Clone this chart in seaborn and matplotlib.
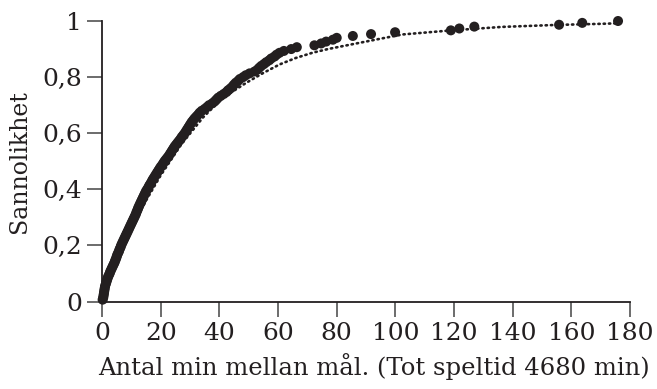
import matplotlib
matplotlib.use("Agg")
import matplotlib.pyplot as plt
import pandas as pd
import seaborn as sns

# sorted intervals between goals (minutes)
intervals = [
    0.2, 0.4, 0.5, 0.6, 0.7, 0.8, 0.9, 1.0, 1.2, 1.4,
    1.6, 1.8, 2.0, 2.3, 2.6, 2.8, 3.1, 3.4, 3.7, 4.0,
    4.3, 4.5, 4.8, 5.0, 5.2, 5.5, 5.8, 6.0, 6.3, 6.5,
    6.8, 7.1, 7.4, 7.7, 8.0, 8.3, 8.6, 8.9, 9.2, 9.5,
    9.8, 10.1, 10.4, 10.7, 11.0, 11.3, 11.6, 11.8, 12.1, 12.3,
    12.6, 12.9, 13.2, 13.5, 13.8, 14.1, 14.4, 14.7, 15.0, 15.4,
    15.8, 16.1, 16.5, 16.9, 17.2, 17.6, 18.0, 18.4, 18.8, 19.2,
    19.6, 20.0, 20.5, 20.9, 21.3, 21.8, 22.3, 22.8, 23.2, 23.6,
    24.0, 24.4, 24.8, 25.3, 25.8, 26.3, 26.8, 27.2, 27.7, 28.2,
    28.6, 29.0, 29.4, 29.8, 30.2, 30.6, 31.1, 31.6, 32.2, 32.8,
    33.3, 34.0, 35.0, 35.8, 36.5, 37.6, 38.4, 39.0, 39.6, 40.5,
    41.5, 42.4, 43.0, 43.8, 44.5, 45.0, 45.6, 46.4, 47.0, 48.1,
    49.0, 50.3, 52.0, 53.0, 53.6, 54.3, 55.2, 56.0, 57.0, 57.7,
    58.8, 59.5, 60.5, 62.0, 64.5, 66.4, 72.4, 74.7, 76.4, 78.7,
    80.0, 85.5, 91.7, 99.9, 118.9, 121.8, 126.9, 155.8, 163.7, 175.9,
]
probability = [(i + 1) / len(intervals) for i in range(len(intervals))]

# dotted model curve
curve_x = [0, 5, 10, 15, 20, 27, 34.4, 41, 49.2, 55, 60.5, 66, 71.8, 77,
           83.3, 93.5, 102.4, 118.4, 136.4, 154.8, 170.4, 176.2]
curve_y = [0, 0.14, 0.26, 0.36, 0.45, 0.56, 0.656, 0.725, 0.78, 0.815,
           0.845, 0.868, 0.887, 0.90, 0.913, 0.934, 0.952, 0.966, 0.979,
           0.986, 0.990, 0.992]

x_ticks = [0, 20, 40, 60, 80, 100, 120, 140, 160, 180]
y_ticks = [0, 0.2, 0.4, 0.6, 0.8, 1.0]
y_tick_labels = ["0", "0,2", "0,4", "0,6", "0,8", "1"]

points = pd.DataFrame({"min": intervals, "p": probability})
curve = pd.DataFrame({"min": curve_x, "p": curve_y})

sns.set_style("ticks")
plt.rcParams["font.family"] = ["DejaVu Serif"]
ink = "#231f20"

fig = plt.figure(figsize=(6.57, 3.89), dpi=100)
ax = fig.add_axes([0.1553, 0.2249, 0.959 - 0.1553, 0.946 - 0.2249])

sns.lineplot(data=curve, x="min", y="p", ax=ax, color=ink, linewidth=1.9,
             linestyle=(0, (0.5, 1.5)), dash_capstyle="round", zorder=2)
sns.scatterplot(data=points, x="min", y="p", ax=ax, color=ink, s=52,
                edgecolor="none", zorder=3, clip_on=False)

ax.set_xlim(0, 180)
ax.set_ylim(0, 1)
ax.set_xticks(x_ticks)
ax.set_yticks(y_ticks)
ax.set_yticklabels(y_tick_labels)
ax.tick_params(axis="both", length=10.5, width=1.1, color="#444444",
               labelsize=18, labelcolor=ink, pad=4)
for side in ["left", "bottom"]:
    ax.spines[side].set_linewidth(1.3)
    ax.spines[side].set_color(ink)
sns.despine(ax=ax)

ax.set_xlabel("Antal min mellan mål. (Tot speltid 4680 min)", fontsize=17.5,
              color=ink)
ax.xaxis.set_label_coords(0.514, -0.185)
ax.xaxis.label.set_verticalalignment("top")
ax.set_ylabel("Sannolikhet", fontsize=17, color=ink, labelpad=8)

fig.savefig("out.png", dpi=100)
